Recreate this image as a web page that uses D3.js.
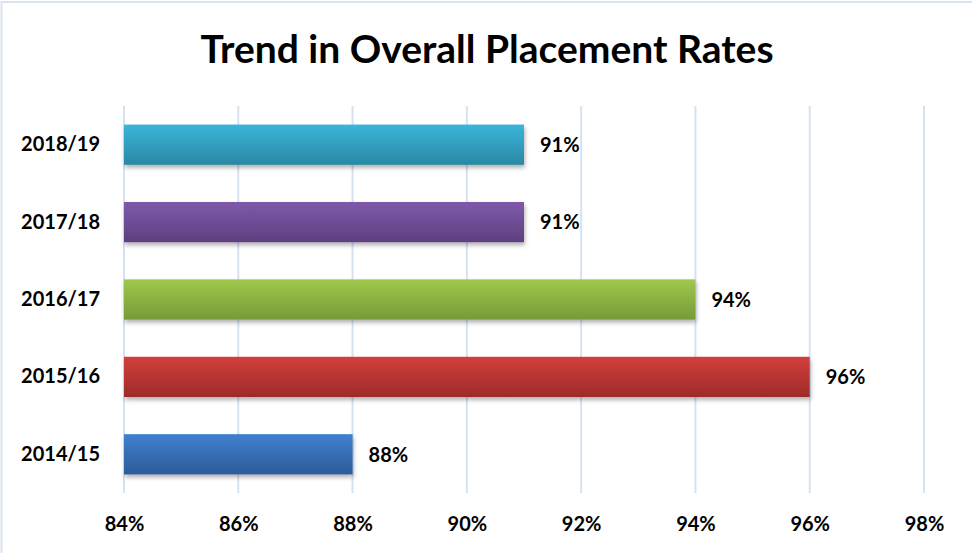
<!DOCTYPE html>
<html>
<head>
<meta charset="utf-8">
<script src="https://cdn.jsdelivr.net/npm/d3@7"></script>
<style>
  body { margin: 0; background: #fff; }
  text { font-family: Lato, "Open Sans", sans-serif; font-weight: bold; fill: #000; }
</style>
</head>
<body>
<div id="chart"></div>
<script>
// data, top to bottom as shown
var years = ['2018/19', '2017/18', '2016/17', '2015/16', '2014/15'];
var rates = [91, 91, 94, 96, 88];
var ticks = [84, 86, 88, 90, 92, 94, 96, 98];
var topColors = ['#3bb5d9', '#7f5aa9', '#9fc94b', '#d23f3c', '#3f80d0'];
var bottomColors = ['#2a88a4', '#5e3f7f', '#779a38', '#9d2b2a', '#2c5c99'];

var width = 972, height = 553;
var margin = { top: 106, right: 48, bottom: 60, left: 124 };

var svg = d3.select('#chart').append('svg')
    .attr('width', width)
    .attr('height', height);

// frame (only top and left edge are visible in the original)
svg.append('rect')
    .attr('x', 1.5).attr('y', 2)
    .attr('width', width + 10).attr('height', height + 10)
    .attr('fill', 'none')
    .attr('stroke', '#d9e4f2')
    .attr('stroke-width', 2);

var defs = svg.append('defs');
years.forEach(function (y, i) {
    var g = defs.append('linearGradient')
        .attr('id', 'grad' + i)
        .attr('x1', 0).attr('y1', 0).attr('x2', 0).attr('y2', 1);
    g.append('stop').attr('offset', '0%').attr('stop-color', topColors[i]);
    g.append('stop').attr('offset', '100%').attr('stop-color', bottomColors[i]);
});
var shadow = defs.append('filter').attr('id', 'shadow')
    .attr('x', '-5%').attr('y', '-20%').attr('width', '110%').attr('height', '160%');
shadow.append('feDropShadow')
    .attr('dx', 1).attr('dy', 3).attr('stdDeviation', 2)
    .attr('flood-color', '#000').attr('flood-opacity', 0.3);

var x = d3.scaleLinear()
    .domain([84, 98])
    .range([margin.left, width - margin.right]);

var y = d3.scaleBand()
    .domain(years)
    .range([margin.top, height - margin.bottom])
    .paddingInner(0.48)
    .paddingOuter(0.24);

// gridlines
svg.append('g')
    .selectAll('line')
    .data(ticks)
    .enter().append('line')
    .attr('x1', function (d) { return x(d); })
    .attr('x2', function (d) { return x(d); })
    .attr('y1', margin.top)
    .attr('y2', height - margin.bottom)
    .attr('stroke', '#d6e2f1')
    .attr('stroke-width', 2);

// bars
svg.append('g')
    .selectAll('rect')
    .data(rates)
    .enter().append('rect')
    .attr('x', x(84))
    .attr('y', function (d, i) { return y(years[i]); })
    .attr('width', function (d) { return x(d) - x(84); })
    .attr('height', y.bandwidth())
    .attr('fill', function (d, i) { return 'url(#grad' + i + ')'; })
    .attr('filter', 'url(#shadow)');

// value labels
svg.append('g')
    .selectAll('text')
    .data(rates)
    .enter().append('text')
    .attr('x', function (d) { return x(d) + 16; })
    .attr('y', function (d, i) { return y(years[i]) + y.bandwidth() / 2; })
    .attr('dy', '0.36em')
    .style('font-size', '20px')
    .text(function (d) { return d + '%'; });

// x axis labels
var xAxis = d3.axisBottom(x)
    .tickValues(ticks)
    .tickSize(0)
    .tickPadding(24)
    .tickFormat(function (d) { return d + '%'; });

var gx = svg.append('g')
    .attr('transform', 'translate(0,' + (height - margin.bottom) + ')')
    .call(xAxis);
gx.select('.domain').remove();
gx.selectAll('text')
    .style('font-family', 'Lato, "Open Sans", sans-serif')
    .style('font-weight', 'bold')
    .style('font-size', '20px')
    .attr('fill', '#000');

// y axis labels
var yAxis = d3.axisLeft(y)
    .tickSize(0)
    .tickPadding(24);

var gy = svg.append('g')
    .attr('transform', 'translate(' + margin.left + ',0)')
    .call(yAxis);
gy.select('.domain').remove();
gy.selectAll('text')
    .style('font-family', 'Lato, "Open Sans", sans-serif')
    .style('font-weight', 'bold')
    .style('font-size', '20px')
    .attr('fill', '#000');

// title
svg.append('text')
    .attr('x', 487)
    .attr('y', 63)
    .attr('text-anchor', 'middle')
    .style('font-size', '39px')
    .text('Trend in Overall Placement Rates');
</script>
</body>
</html>
